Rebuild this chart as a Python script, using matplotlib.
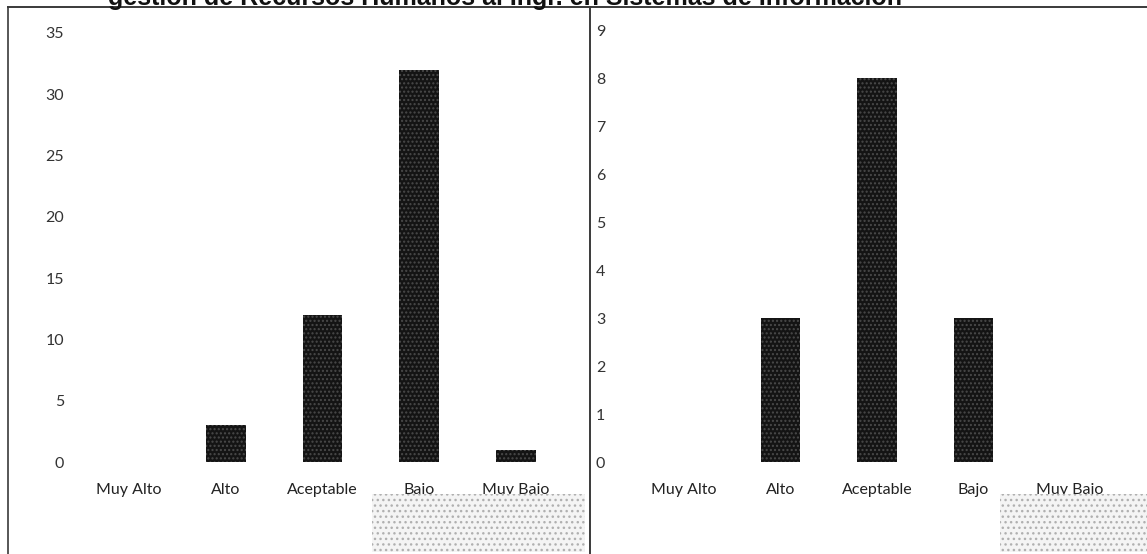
import matplotlib
matplotlib.use("Agg")
import matplotlib.pyplot as plt
from matplotlib.lines import Line2D
from matplotlib.patches import Rectangle

niveles = ["Muy Alto", "Alto", "Aceptable", "Bajo", "Muy Bajo"]
valores_izq = [0, 3, 12, 32, 1]
valores_der = [0, 3, 8, 3, 0]
ticks_izq = [0, 5, 10, 15, 20, 25, 30, 35]
ticks_der = list(range(0, 10))
titulo = "gestión de Recursos Humanos al Ingr. en Sistemas de Información"

W, H = 1147, 554
fig = plt.figure(figsize=(W / 100, H / 100), dpi=100)
fig.patch.set_facecolor("white")


def px(x0, y0, x1, y1):
    # rectangulo en pixeles (origen arriba a la izquierda) -> fraccion de figura
    return [x0 / W, 1 - y1 / H, (x1 - x0) / W, (y1 - y0) / H]


def panel(rect, valores, ticks, ymax, pad):
    ax = fig.add_axes(rect)
    x = range(len(niveles))
    ax.bar(x, valores, width=0.41, color="#141414", edgecolor="#4a4a4a",
           linewidth=0, hatch="....", zorder=2)
    ax.set_xlim(-0.6, 4.6)
    ax.set_ylim(0, ymax)
    ax.set_yticks(ticks)
    ax.set_yticklabels([str(t) for t in ticks], fontsize=11.5, family="Lato",
                       color="#333333")
    ax.set_xticks(list(x))
    ax.set_xticklabels(niveles, fontsize=11.5, family="Lato", color="#222222")
    ax.tick_params(axis="y", length=0, pad=pad)
    ax.tick_params(axis="x", length=0, pad=15)
    for s in ax.spines.values():
        s.set_visible(False)
    ax.patch.set_alpha(0)
    return ax


ax1 = panel(px(71, 33, 574, 462), valores_izq, ticks_izq, 35, 5)
ax2 = panel(px(626, 30, 1128, 462), valores_der, ticks_der, 9, 15)

# marco del recuadro
lc = "#3a3a3a"
fig.add_artist(Line2D([8 / W, 1], [1 - 7 / H, 1 - 7 / H], color=lc, lw=1.4))
fig.add_artist(Line2D([8 / W, 8 / W], [0, 1 - 7 / H], color=lc, lw=1.2))
fig.add_artist(Line2D([590 / W, 590 / W], [0, 1 - 7 / H], color=lc, lw=1.4))

# titulo recortado por el borde superior
fig.text(108 / W, 1 - 5 / H, titulo, fontsize=18, fontweight="bold",
         family="Liberation Sans", va="baseline", ha="left", color="#111111")

# manchas grises del escaneo sobre las etiquetas
for x0, y0, x1, y1 in [(372, 494, 585, 552), (1000, 494, 1147, 552)]:
    fig.add_artist(Rectangle((x0 / W, 1 - y1 / H), (x1 - x0) / W, (y1 - y0) / H,
                             transform=fig.transFigure, facecolor="#f4f4f4",
                             edgecolor="#b0b0b0", linewidth=0, hatch="...",
                             zorder=5))

fig.savefig("out.png", dpi=100)
